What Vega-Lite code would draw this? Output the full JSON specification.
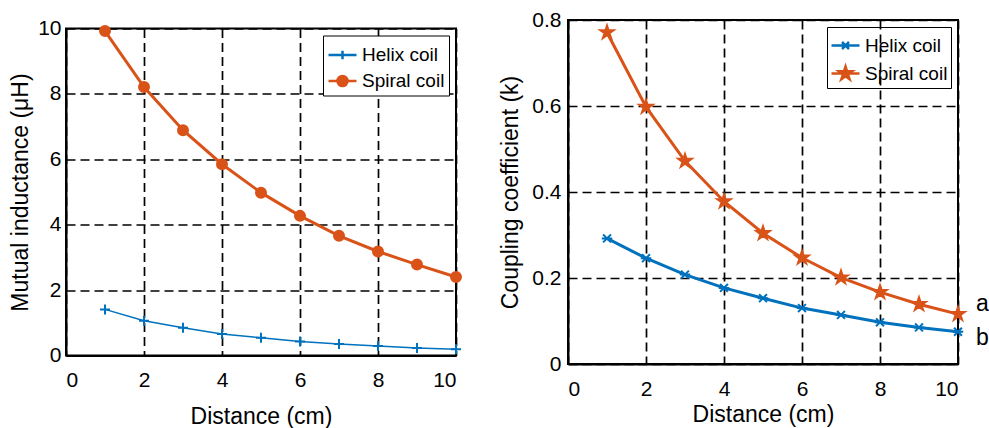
{
  "$schema": "https://vega.github.io/schema/vega-lite/v6.json",
  "padding": {"left": 8, "top": 8, "right": 0, "bottom": 0},
  "background": "white",
  "config": {
    "font": "Liberation Sans",
    "view": {"stroke": "black", "strokeWidth": 2},
    "axis": {
      "domainColor": "black", "domainWidth": 2,
      "gridColor": "black", "gridDash": [9, 5], "gridWidth": 1.7, "gridOpacity": 1,
      "ticks": false, "tickSize": 0,
      "labelColor": "black", "labelFont": "Liberation Sans", "labelFontSize": 21,
      "titleColor": "black", "titleFont": "Liberation Sans", "titleFontSize": 23, "titleFontWeight": "normal"
    },
    "legend": {
      "orient": "top-right", "offset": 7, "strokeColor": "black", "symbolOpacity": 1,
      "symbolSize": 784, "symbolStrokeWidth": 2.5, "labelFont": "Liberation Sans",
      "labelFontSize": 19, "labelColor": "black", "labelOffset": 4, "labelLimit": 0
    }
  },
  "datasets": {
    "mutual": [
      {"distance": 1, "series": "Helix coil", "value": 1.41},
      {"distance": 2, "series": "Helix coil", "value": 1.06},
      {"distance": 3, "series": "Helix coil", "value": 0.85},
      {"distance": 4, "series": "Helix coil", "value": 0.66},
      {"distance": 5, "series": "Helix coil", "value": 0.54},
      {"distance": 6, "series": "Helix coil", "value": 0.43},
      {"distance": 7, "series": "Helix coil", "value": 0.35},
      {"distance": 8, "series": "Helix coil", "value": 0.29},
      {"distance": 9, "series": "Helix coil", "value": 0.23},
      {"distance": 10, "series": "Helix coil", "value": 0.19},
      {"distance": 1, "series": "Spiral coil", "value": 9.92},
      {"distance": 2, "series": "Spiral coil", "value": 8.21},
      {"distance": 3, "series": "Spiral coil", "value": 6.89},
      {"distance": 4, "series": "Spiral coil", "value": 5.85},
      {"distance": 5, "series": "Spiral coil", "value": 4.98},
      {"distance": 6, "series": "Spiral coil", "value": 4.27},
      {"distance": 7, "series": "Spiral coil", "value": 3.66},
      {"distance": 8, "series": "Spiral coil", "value": 3.18},
      {"distance": 9, "series": "Spiral coil", "value": 2.78},
      {"distance": 10, "series": "Spiral coil", "value": 2.40}
    ],
    "coupling": [
      {"distance": 1, "series": "Helix coil", "value": 0.292},
      {"distance": 2, "series": "Helix coil", "value": 0.246},
      {"distance": 3, "series": "Helix coil", "value": 0.208},
      {"distance": 4, "series": "Helix coil", "value": 0.177},
      {"distance": 5, "series": "Helix coil", "value": 0.153},
      {"distance": 6, "series": "Helix coil", "value": 0.130},
      {"distance": 7, "series": "Helix coil", "value": 0.114},
      {"distance": 8, "series": "Helix coil", "value": 0.097},
      {"distance": 9, "series": "Helix coil", "value": 0.085},
      {"distance": 10, "series": "Helix coil", "value": 0.075},
      {"distance": 1, "series": "Spiral coil", "value": 0.771},
      {"distance": 2, "series": "Spiral coil", "value": 0.598},
      {"distance": 3, "series": "Spiral coil", "value": 0.472},
      {"distance": 4, "series": "Spiral coil", "value": 0.378},
      {"distance": 5, "series": "Spiral coil", "value": 0.304},
      {"distance": 6, "series": "Spiral coil", "value": 0.247},
      {"distance": 7, "series": "Spiral coil", "value": 0.201},
      {"distance": 8, "series": "Spiral coil", "value": 0.167},
      {"distance": 9, "series": "Spiral coil", "value": 0.139},
      {"distance": 10, "series": "Spiral coil", "value": 0.116}
    ],
    "annot": [
      {"distance": 10, "value": 0.139, "label": "a"},
      {"distance": 10, "value": 0.060, "label": "b"}
    ]
  },
  "spacing": 112,
  "bounds": "flush",
  "center": true,
  "resolve": {
    "scale": {"fill": "independent", "stroke": "independent", "shape": "independent"},
    "legend": {"fill": "independent", "stroke": "independent", "shape": "independent"}
  },
  "hconcat": [
    {
      "width": 390,
      "height": 327,
      "data": {"name": "mutual"},
      "encoding": {
        "x": {"field": "distance", "type": "quantitative", "scale": {"domain": [0, 10], "nice": false},
              "axis": {"values": [0, 2, 4, 6, 8, 10], "title": "Distance (cm)", "labelPadding": 14, "titlePadding": 15}},
        "y": {"field": "value", "type": "quantitative", "scale": {"domain": [0, 10], "nice": false},
              "axis": {"values": [0, 2, 4, 6, 8, 10], "title": "Mutual inductance (μH)", "labelPadding": 5, "titlePadding": 5}}
      },
      "layer": [
        {
          "mark": {"type": "line"},
          "encoding": {
            "stroke": {"field": "series", "type": "nominal", "scale": {"domain": ["Helix coil", "Spiral coil"], "range": ["#0072BD", "#D95319"]}},
            "strokeWidth": {"condition": {"test": "datum.series === 'Helix coil'", "value": 1.5}, "value": 3}
          }
        },
        {
          "mark": {"type": "point", "filled": true, "strokeWidth": 2, "size": 100, "opacity": 1},
          "encoding": {
            "fill": {"field": "series", "type": "nominal", "scale": {"domain": ["Helix coil", "Spiral coil"], "range": ["#0072BD", "#D95319"]}},
            "stroke": {"field": "series", "type": "nominal", "scale": {"domain": ["Helix coil", "Spiral coil"], "range": ["#0072BD", "#D95319"]}},
            "shape": {"condition": {"test": "datum.series === 'Helix coil'", "value": "M-1,0H1M0,-1V1"}, "value": "circle"}
          }
        },
        {
          "mark": {"type": "point", "filled": true, "opacity": 0},
          "encoding": {
            "shape": {"field": "series", "type": "nominal",
                      "scale": {"domain": ["Helix coil", "Spiral coil"], "range": ["M-1,0H1M0,-0.3V0.3M-0.3,0H0.3", "M-1,0H1M0.36,0A0.36,0.36,0,1,1,-0.36,0A0.36,0.36,0,1,1,0.36,0"]},
                      "legend": {"title": null, "fillColor": "white", "padding": 4, "rowPadding": -1, "symbolOpacity": 1}}
          }
        }
      ]
    },
    {
      "width": 390,
      "height": 344,
      "encoding": {
        "x": {"field": "distance", "type": "quantitative", "scale": {"domain": [0, 10], "nice": false},
              "axis": {"values": [0, 2, 4, 6, 8, 10], "title": "Distance (cm)", "labelPadding": 14, "titlePadding": 4}},
        "y": {"field": "value", "type": "quantitative", "scale": {"domain": [0, 0.8], "nice": false},
              "axis": {"values": [0, 0.2, 0.4, 0.6, 0.8], "format": ".1~f", "title": "Coupling coefficient (k)", "labelPadding": 7, "titlePadding": 9}}
      },
      "layer": [
        {
          "data": {"name": "coupling"},
          "mark": {"type": "line", "strokeWidth": 3},
          "encoding": {
            "stroke": {"field": "series", "type": "nominal", "scale": {"domain": ["Helix coil", "Spiral coil"], "range": ["#0072BD", "#D95319"]}}
          }
        },
        {
          "data": {"name": "coupling"},
          "mark": {"type": "point", "filled": true, "strokeWidth": 2, "size": 110, "opacity": 1},
          "encoding": {
            "fill": {"field": "series", "type": "nominal", "scale": {"domain": ["Helix coil", "Spiral coil"], "range": ["#0072BD", "#D95319"]}},
            "stroke": {"field": "series", "type": "nominal", "scale": {"domain": ["Helix coil", "Spiral coil"], "range": ["#0072BD", "#D95319"]}},
            "shape": {"condition": {"test": "datum.series === 'Helix coil'", "value": "M-1,0H1M-0.75,-0.75L0.75,0.75M-0.75,0.75L0.75,-0.75"}, "value": "M0,-1.34L0.301,-0.414L1.274,-0.414L0.486,0.158L0.788,1.084L0,0.512L-0.788,1.084L-0.486,0.158L-1.274,-0.414L-0.301,-0.414Z"}
          }
        },
        {
          "data": {"name": "coupling"},
          "mark": {"type": "point", "filled": true, "opacity": 0},
          "encoding": {
            "shape": {"field": "series", "type": "nominal",
                      "scale": {"domain": ["Helix coil", "Spiral coil"], "range": ["M-1,0H1M-0.25,-0.25L0.25,0.25M-0.25,0.25L0.25,-0.25", "M-1,0H1M0,-0.5L0.112,-0.155L0.476,-0.155L0.182,0.059L0.294,0.405L0,0.191L-0.294,0.405L-0.182,0.059L-0.476,-0.155L-0.112,-0.155Z"]},
                      "legend": {"title": null, "padding": 3, "rowPadding": 2, "symbolOpacity": 1}}
          }
        },
        {
          "data": {"name": "annot"},
          "mark": {"type": "text", "align": "left", "dx": 18, "fontSize": 23, "color": "black", "font": "Liberation Sans"},
          "encoding": {
            "text": {"field": "label", "type": "nominal"}
          }
        }
      ]
    }
  ]
}
